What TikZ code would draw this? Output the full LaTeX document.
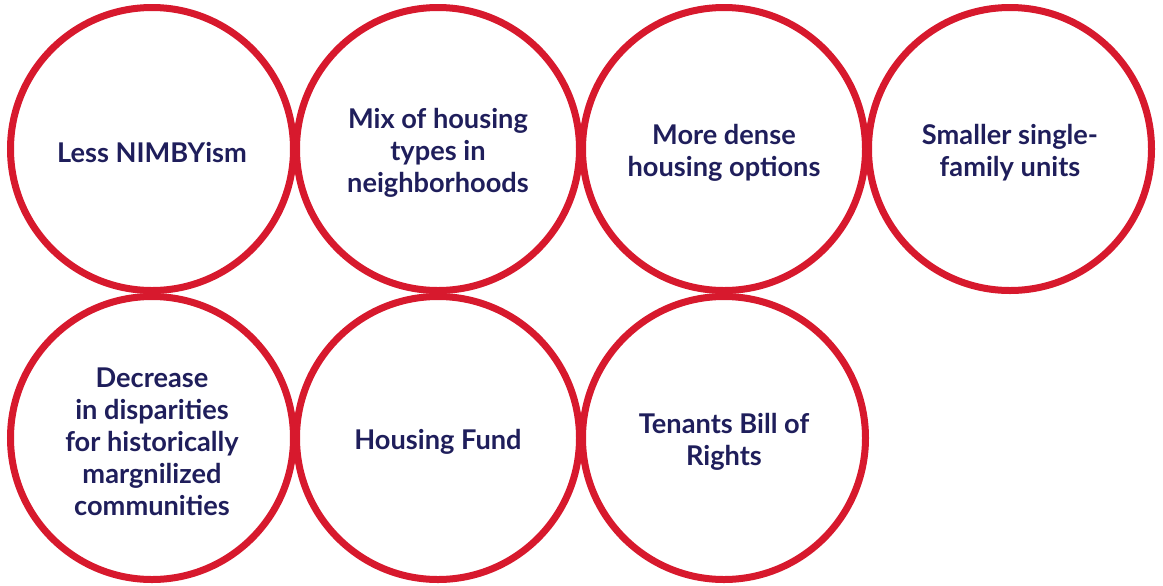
\documentclass[tikz,border=0pt]{standalone}
\usepackage{fontspec}
\setmainfont{Lato}
\usetikzlibrary{positioning}
\definecolor{ringred}{HTML}{D7192D}
\definecolor{textnavy}{HTML}{1F1E5B}

\begin{document}
\begin{tikzpicture}[
            node distance = -2pt,
            goal/.style = {circle,draw=ringred,line width=3.5pt,
                minimum size=141.5pt,inner sep=0pt,
                label={[goaltext]center:#1}},
            goaltext/.style = {align=center,text=textnavy,yshift=-2pt,
                font=\fontsize{13.6}{16}\selectfont\bfseries}]
            \useasboundingbox (0,0) rectangle (581.5pt,-292.5pt);
            \node[goal={Less NIMBYism}](g1) at (76pt,-74.5pt) {};
            \node[goal={Mix of housing\\types in\\neighborhoods},right=of g1](g2) {};
            \node[goal={More dense\\housing options},right=of g2](g3) {};
            \node[goal={Smaller single-\\family units},right=of g3](g4) {};
            \node[goal={Decrease\\in disparities\\for historically\\margnilized\\communities},
                below=-0.5pt of g1](g5) {};
            \node[goal={Housing Fund},right=of g5](g6) {};
            \node[goal={Tenants Bill of\\Rights},right=of g6](g7) {};
        \end{tikzpicture}
\end{document}
